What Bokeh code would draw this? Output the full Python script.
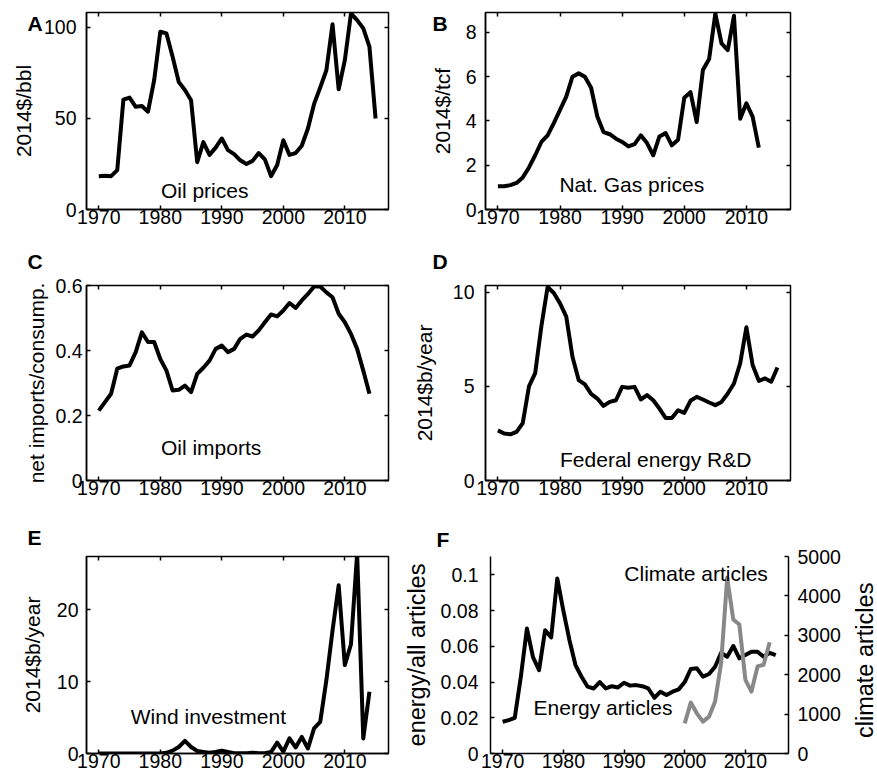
from bokeh.plotting import figure
from bokeh.models import Range1d, LinearAxis, FixedTicker, Label, Title
from bokeh.layouts import column, row
from bokeh.embed import file_html
from bokeh.resources import INLINE

FONT = "Liberation Sans"
TICK_FS = "19.5px"
LAB_FS = "21px"
F_LAB_FS = "23.5px"

# ---------------- data ----------------
x_ticks = [1970, 1980, 1990, 2000, 2010]

oil_years = list(range(1970, 2016))
oil_price = [18.3, 18.5, 18.3, 21.6, 60.4, 61.5, 56.4, 56.8, 53.7, 71.0,
             97.6, 96.7, 83.9, 70.0, 65.6, 60.0, 26.0, 37.0, 30.0, 34.0,
             39.0, 32.6, 30.4, 27.0, 25.0, 26.7, 31.0, 27.5, 18.3, 24.4,
             38.0, 30.0, 31.0, 35.0, 44.5, 58.0, 67.0, 76.5, 101.8, 66.0,
             82.0, 107.7, 104.0, 99.5, 89.4, 50.0]
oil_ticks = [0, 50, 100]
oil_tick_labels = ["0", "50", "100"]

gas_years = list(range(1970, 2013))
gas_price = [1.05, 1.05, 1.1, 1.2, 1.45, 1.9, 2.45, 3.05, 3.35, 3.9,
             4.5, 5.1, 6.0, 6.15, 6.0, 5.5, 4.2, 3.5, 3.4, 3.2,
             3.05, 2.85, 2.95, 3.35, 3.0, 2.45, 3.3, 3.45, 2.9, 3.15,
             5.05, 5.3, 3.95, 6.3, 6.8, 8.85, 7.5, 7.2, 8.75, 4.1,
             4.8, 4.2, 2.8]
gas_ticks = [0, 2, 4, 6, 8]
gas_tick_labels = ["0", "2", "4", "6", "8"]

imp_years = list(range(1970, 2015))
imp_share = [0.215, 0.241, 0.267, 0.344, 0.351, 0.354, 0.395, 0.456, 0.426, 0.426,
             0.374, 0.338, 0.277, 0.279, 0.292, 0.272, 0.328, 0.347, 0.369, 0.405,
             0.415, 0.395, 0.405, 0.436, 0.449, 0.443, 0.462, 0.487, 0.511, 0.505,
             0.523, 0.546, 0.531, 0.554, 0.574, 0.597, 0.597, 0.579, 0.564, 0.513,
             0.487, 0.451, 0.405, 0.338, 0.267]
imp_ticks = [0, 0.2, 0.4, 0.6]
imp_tick_labels = ["0", "0.2", "0.4", "0.6"]

rd_years = list(range(1970, 2016))
rd_spend = [2.66, 2.49, 2.45, 2.58, 3.05, 5.0, 5.7, 8.2, 10.27, 9.95,
            9.4, 8.7, 6.57, 5.33, 5.1, 4.6, 4.35, 3.96, 4.17, 4.26,
            4.97, 4.92, 4.97, 4.3, 4.53, 4.26, 3.82, 3.32, 3.32, 3.73,
            3.59, 4.23, 4.44, 4.3, 4.14, 4.0, 4.17, 4.62, 5.15, 6.22,
            8.13, 6.13, 5.29, 5.42, 5.24, 6.0]
rd_ticks = [0, 5, 10]
rd_tick_labels = ["0", "5", "10"]

wind_years = list(range(1970, 2015))
wind_inv = [0.0, 0.0, 0.0, 0.0, 0.0, 0.0, 0.0, 0.0, 0.0, 0.0,
            0.0, 0.1, 0.4, 0.9, 1.75, 0.9, 0.35, 0.2, 0.1, 0.2,
            0.4, 0.2, 0.05, 0.05, 0.05, 0.1, 0.05, 0.05, 0.2, 1.5,
            0.25, 2.1, 0.85, 2.3, 0.7, 3.5, 4.4, 10.2, 17.1, 23.4,
            12.3, 15.2, 27.8, 2.1, 8.6]
wind_ticks = [0, 10, 20]
wind_tick_labels = ["0", "10", "20"]

energy_years = list(range(1970, 2016))
energy_frac = [0.0178, 0.0187, 0.020, 0.043, 0.070, 0.054, 0.0467, 0.069, 0.065, 0.098,
               0.080, 0.0636, 0.0495, 0.043, 0.0374, 0.0364, 0.040, 0.0364, 0.0377, 0.037,
               0.0396, 0.038, 0.0383, 0.0377, 0.0364, 0.0312, 0.0346, 0.0327, 0.0346, 0.0359,
               0.040, 0.0473, 0.0477, 0.043, 0.0445, 0.0486, 0.0564, 0.0542, 0.0602, 0.0533,
               0.0551, 0.057, 0.057, 0.0542, 0.0564, 0.0551]
energy_ticks = [0, 0.02, 0.04, 0.06, 0.08, 0.1]
energy_tick_labels = ["0", "0.02", "0.04", "0.06", "0.08", "0.1"]

climate_years = list(range(2000, 2015))
climate_count = [765, 1292, 1020, 808, 935, 1318, 2295, 4462, 3400, 3272,
                 1870, 1572, 2210, 2252, 2822]
climate_ticks = [0, 1000, 2000, 3000, 4000, 5000]
climate_tick_labels = ["0", "1000", "2000", "3000", "4000", "5000"]


# ---------------- helpers ----------------
def style_axis(ax, standoff, label_fs=LAB_FS, tick_in=4):
    ax.major_tick_in = tick_in
    ax.major_tick_out = 0
    ax.minor_tick_line_color = None
    ax.axis_line_width = 1.5
    ax.axis_line_color = "black"
    ax.major_tick_line_width = 1.5
    ax.major_tick_line_color = "black"
    ax.major_label_text_font = FONT
    ax.major_label_text_font_size = TICK_FS
    ax.major_label_text_color = "black"
    ax.major_label_standoff = standoff
    ax.axis_label_text_font = FONT
    ax.axis_label_text_font_size = label_fs
    ax.axis_label_text_font_style = "normal"
    ax.axis_label_text_color = "black"


def tick_only_axis(ticks, **kw):
    ax = LinearAxis(ticker=FixedTicker(ticks=ticks), **kw)
    ax.major_label_text_font_size = "1px"
    ax.major_label_text_color = None
    ax.major_label_standoff = 0
    ax.major_tick_in = 4
    ax.major_tick_out = 0
    ax.major_tick_line_width = 1.5
    ax.major_tick_line_color = "black"
    ax.minor_tick_line_color = None
    ax.axis_line_color = None
    return ax


def panel(width, height, ml, mr, mt, mb, y_end, yticks, ylabels, ylabel,
          y_standoff, ylabel_standoff, box=True, label_fs=LAB_FS):
    p = figure(width=width, height=height,
               x_range=Range1d(1968.0, 2017.1), y_range=Range1d(0, y_end),
               output_backend="svg", toolbar_location=None, title=None,
               min_border_left=ml, min_border_right=mr,
               min_border_top=mt, min_border_bottom=mb)
    p.grid.visible = False
    p.background_fill_color = "white"
    p.border_fill_color = "white"
    if box:
        p.outline_line_color = "black"
        p.outline_line_width = 1.5
        p.outline_line_alpha = 1.0
    else:
        p.outline_line_color = None
    xa = p.xaxis[0]
    ya = p.yaxis[0]
    xa.ticker = FixedTicker(ticks=x_ticks)
    ya.ticker = FixedTicker(ticks=yticks)
    ya.major_label_overrides = {t: l for t, l in zip(yticks, ylabels)}
    style_axis(xa, 0)
    style_axis(ya, y_standoff, label_fs)
    ya.axis_label = ylabel
    ya.axis_label_standoff = ylabel_standoff
    if box:
        p.add_layout(tick_only_axis(x_ticks), "above")
        p.add_layout(tick_only_axis(yticks), "right")
    return p


def add_text(p, x, y, text):
    p.add_layout(Label(x=x, y=y, text=text, text_font=FONT, text_font_size=LAB_FS,
                       text_color="black", text_align="left",
                       text_baseline="middle"))


def add_letter(p, letter, offset, standoff):
    p.add_layout(Title(text=letter, align="left", offset=offset, standoff=standoff,
                       text_font=FONT, text_font_size=LAB_FS, text_font_style="bold",
                       text_color="black", vertical_align="bottom"), "above")


LW = 4
W1, W2 = 400, 477
WF, WR = 447, 30
H1, H2, H3 = 233, 273, 275

# A: oil prices
pa = panel(W1, H1, 86, 12, 12, 24, 108.2, oil_ticks, oil_tick_labels,
           "2014$/bbl", 10, 6)
pa.line(oil_years, oil_price, line_width=LW, color="black", line_join="round")
add_text(pa, 1980.1, 10.4, "Oil prices")
add_letter(pa, "A", -59, -44)

# B: gas prices
pb = panel(W2, H1, 85, 87, 12, 24, 8.9, gas_ticks, gas_tick_labels,
           "2014$/tcf", 9, 9)
pb.line(gas_years, gas_price, line_width=LW, color="black", line_join="round")
add_text(pb, 1979.9, 1.14, "Nat. Gas prices")
add_letter(pb, "B", -53, -44)

# C: oil imports
pc = panel(W1, H2, 86, 12, 52, 26, 0.6, imp_ticks, imp_tick_labels,
           "net imports/consump.", 4, 4)
pc.line(imp_years, imp_share, line_width=LW, color="black", line_join="round")
add_text(pc, 1980.1, 0.103, "Oil imports")
add_letter(pc, "C", -59, 26)

# D: federal R&D
pd_ = panel(W2, H2, 85, 87, 52, 26, 10.35, rd_ticks, rd_tick_labels,
            "2014$b/year", 11, 14)
pd_.line(rd_years, rd_spend, line_width=LW, color="black", line_join="round")
add_text(pd_, 1980.0, 1.09, "Federal energy R&D")
add_letter(pd_, "D", -53, 26)

# E: wind investment
pe = panel(W1, H3, 86, 12, 50, 28, 27.4, wind_ticks, wind_tick_labels,
           "2014$b/year", 8, 10)
pe.line(wind_years, wind_inv, line_width=LW, color="black", line_join="round")
add_text(pe, 1975.2, 5.2, "Wind investment")
add_letter(pe, "E", -59, 16)

# F: articles
pf = panel(WF, H3, 86, WF - 86 - 302, 50, 28, 0.1103, energy_ticks, energy_tick_labels,
           "energy/all articles", 12, 8, box=False, label_fs=F_LAB_FS)
pf.extra_y_ranges = {"clim": Range1d(0, 5000)}
ra = LinearAxis(y_range_name="clim", ticker=FixedTicker(ticks=climate_ticks))
ra.major_label_overrides = {t: l for t, l in zip(climate_ticks, climate_tick_labels)}
style_axis(ra, 9)
pf.add_layout(ra, "right")
pf.line(energy_years, energy_frac, line_width=LW, color="black", line_join="round")
pf.line(climate_years, climate_count, line_width=LW, color="#888888",
        line_join="round", y_range_name="clim")
add_text(pf, 1990.05, 0.101, "Climate articles")
add_text(pf, 1975.1, 0.0258, "Energy articles")
add_letter(pf, "F", -54, 12)

# narrow strip holding the right-axis title of panel F (reads bottom-to-top)
pr = figure(width=WR, height=H3, x_range=Range1d(0, 1), y_range=Range1d(0, 1),
            output_backend="svg", toolbar_location=None, title=None,
            x_axis_location=None, y_axis_location=None,
            min_border_left=0, min_border_right=0, min_border_top=0, min_border_bottom=0)
pr.grid.visible = False
pr.outline_line_color = None
pr.background_fill_color = "white"
pr.border_fill_color = "white"
pr.add_layout(Label(x=0.567, y=0.473, text="climate articles", text_font=FONT,
                    text_font_size=F_LAB_FS, text_color="black", text_align="center",
                    text_baseline="middle", angle=90, angle_units="deg"))

layout = column(row(pa, pb, spacing=0), row(pc, pd_, spacing=0),
                row(pe, pf, pr, spacing=0), spacing=0)

open("out.html", "w").write(file_html(layout, INLINE))
